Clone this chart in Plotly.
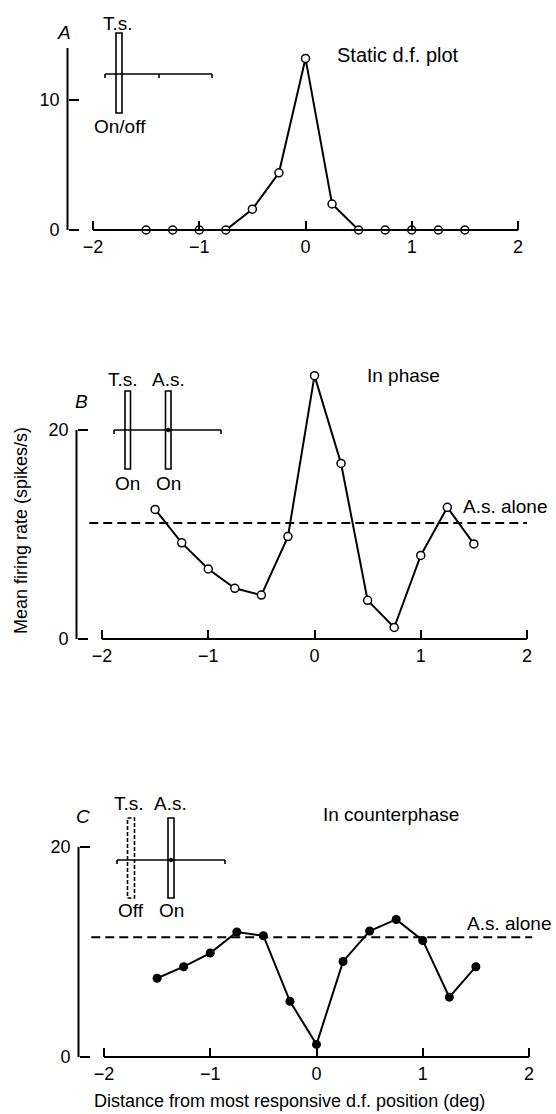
import plotly.graph_objects as go

W, H = 556, 1114

# ---------------- data ----------------
positions = [-1.5, -1.25, -1.0, -0.75, -0.5, -0.25, 0.0, 0.25, 0.5, 0.75, 1.0, 1.25, 1.5]
static_rate = [0.0, 0.0, 0.0, 0.0, 1.6, 4.4, 13.2, 2.0, 0.0, 0.0, 0.0, 0.0, 0.0]
in_phase_rate = [12.4, 9.2, 6.7, 4.85, 4.2, 9.8, 25.2, 16.8, 3.7, 1.1, 8.0, 12.6, 9.1]
counterphase_rate = [7.5, 8.6, 9.9, 11.9, 11.55, 5.3, 1.2, 9.1, 12.0, 13.1, 11.1, 5.7, 8.6]
as_alone_B = 11.1
as_alone_C = 11.4
dash_span_B = [-2.12, 2.0]
dash_span_C = [-2.12, 2.03]

x_ticks = [-2, -1, 0, 1, 2]
x_ticktext = ["\u22122", "\u22121", "0", "1", "2"]
yticks_A = [0, 10]
yticks_BC = [0, 20]

# ---------------- layout helpers ----------------
FONT = "Liberation Sans, Arial, sans-serif"
SX = 106.25          # pixels per x unit
XR = [-2.35, 2.15]   # x range
YAX = -2.24          # x position of y axis line

panels = [
    dict(x0=93, y0=230, sy=13.0, ymax=14.8, ytop=14, yt=yticks_A),
    dict(x0=102, y0=639, sy=10.45, ymax=26.5, ytop=20, yt=yticks_BC),
    dict(x0=104, y0=1057, sy=10.5, ymax=21.0, ytop=20, yt=yticks_BC),
]

def px(x):
    return x / W

def py(y):
    return 1 - y / H

fig = go.Figure()
layout = dict(
    width=W, height=H, margin=dict(l=0, r=0, t=0, b=0),
    paper_bgcolor="white", plot_bgcolor="white", showlegend=False,
    font=dict(family=FONT, size=18, color="black"),
)
shapes = []
annotations = []

for i, p in enumerate(panels):
    n = "" if i == 0 else str(i + 1)
    xl = p["x0"] + (XR[0] + 2) * SX
    xr = p["x0"] + (XR[1] + 2) * SX
    yb = p["y0"] + 1.0 * p["sy"]
    yt = p["y0"] - p["ymax"] * p["sy"]
    layout["xaxis" + n] = dict(
        domain=[px(xl), px(xr)], range=XR, anchor="free", position=py(p["y0"]),
        showline=False, showgrid=False, zeroline=False,
        tickvals=x_ticks, ticktext=x_ticktext, ticks="inside", ticklen=9,
        tickwidth=2, tickcolor="black", tickfont=dict(size=18, family=FONT),
        ticklabelstandoff=4,
    )
    layout["yaxis" + n] = dict(
        domain=[py(yb), py(yt)], range=[-1, p["ymax"]], anchor="free",
        position=px(p["x0"] + (YAX + 2) * SX),
        showline=False, showgrid=False, zeroline=False,
        tickvals=p["yt"], ticks="inside", ticklen=10, tickwidth=2,
        tickcolor="black", tickfont=dict(size=18, family=FONT),
        ticklabelstandoff=8,
    )
    xa, ya = "x" + n, "y" + n
    # axis lines
    shapes.append(dict(type="line", xref=xa, yref=ya, x0=-2, x1=2, y0=0, y1=0,
                       line=dict(color="black", width=2)))
    shapes.append(dict(type="line", xref=xa, yref=ya, x0=YAX, x1=YAX, y0=0, y1=p["ytop"],
                       line=dict(color="black", width=2)))

# ---------------- traces ----------------
fig.add_trace(go.Scatter(
    x=positions, y=static_rate, mode="lines+markers", xaxis="x", yaxis="y",
    line=dict(color="black", width=2), cliponaxis=False,
    marker=dict(symbol="circle", size=8, color="white", line=dict(color="black", width=1.5))))

fig.add_trace(go.Scatter(
    x=dash_span_B, y=[as_alone_B, as_alone_B], mode="lines", xaxis="x2", yaxis="y2",
    line=dict(color="black", width=2, dash="9px,5px")))
fig.add_trace(go.Scatter(
    x=positions, y=in_phase_rate, mode="lines+markers", xaxis="x2", yaxis="y2",
    line=dict(color="black", width=2), cliponaxis=False,
    marker=dict(symbol="circle", size=8, color="white", line=dict(color="black", width=1.5))))

fig.add_trace(go.Scatter(
    x=dash_span_C, y=[as_alone_C, as_alone_C], mode="lines", xaxis="x3", yaxis="y3",
    line=dict(color="black", width=2, dash="9px,5px")))
fig.add_trace(go.Scatter(
    x=positions, y=counterphase_rate, mode="lines+markers", xaxis="x3", yaxis="y3",
    line=dict(color="black", width=2), cliponaxis=False,
    marker=dict(symbol="circle", size=9, color="black")))

# ---------------- insets (stimulus diagrams) ----------------
def rect(x0, x1, y0, y1, dash="solid"):
    shapes.append(dict(type="rect", xref="paper", yref="paper",
                       x0=px(x0), x1=px(x1), y0=py(y1), y1=py(y0),
                       line=dict(color="black", width=1.6, dash=dash),
                       fillcolor="rgba(0,0,0,0)"))

def hline(x0, x1, y):
    shapes.append(dict(type="line", xref="paper", yref="paper",
                       x0=px(x0), x1=px(x1), y0=py(y), y1=py(y),
                       line=dict(color="black", width=1.6)))

def vtick(x, y0, y1):
    shapes.append(dict(type="line", xref="paper", yref="paper",
                       x0=px(x), x1=px(x), y0=py(y0), y1=py(y1),
                       line=dict(color="black", width=1.6)))

def dot(x, y, r=1.8):
    shapes.append(dict(type="circle", xref="paper", yref="paper",
                       x0=px(x - r), x1=px(x + r), y0=py(y + r), y1=py(y - r),
                       line=dict(color="black", width=1), fillcolor="black"))

def text(s, x, y, size=19, italic=False, anchor="center"):
    annotations.append(dict(
        text=("<i>%s</i>" % s) if italic else s, xref="paper", yref="paper",
        x=px(x), y=py(y), xanchor=anchor, yanchor="middle", showarrow=False,
        font=dict(family=FONT, size=size, color="black")))

# Panel A inset
hline(105, 212, 74)
vtick(105, 74, 78)
vtick(212, 74, 78)
vtick(159, 74, 78)
rect(116, 122, 33, 113)
text("T.s.", 118, 23)
text("On/off", 120, 126)
text("A", 64, 33, size=19, italic=True)

# Panel B inset
hline(114, 221, 430)
vtick(114, 430, 434)
vtick(221, 430, 434)
rect(125, 130.5, 391, 469)
rect(165.5, 171, 391, 469)
dot(168.2, 430)
text("T.s.", 123, 379)
text("A.s.", 168, 379)
text("On", 127, 483)
text("On", 168.5, 483)
text("B", 81, 401, size=19, italic=True)

# Panel C inset
hline(117, 225, 860)
vtick(117, 860, 864)
vtick(225, 860, 864)
rect(127.5, 134.5, 818, 898, dash="4px,2px")
rect(168, 174, 818, 898)
dot(171, 860)
text("T.s.", 129, 803)
text("A.s.", 170, 803)
text("Off", 130.5, 910)
text("On", 171, 910)
text("C", 83, 816, size=19, italic=True)

# Panel annotations
text("Static d.f. plot", 398, 55, size=20)
text("In phase", 403, 375, size=19)
text("A.s. alone", 505, 507, size=19)
text("In counterphase", 391, 814, size=19)
text("A.s. alone", 509, 923, size=19)

# Axis titles
annotations.append(dict(
    text="Mean firing rate (spikes/s)", xref="paper", yref="paper",
    x=px(21), y=py(531), xanchor="center", yanchor="middle", textangle=-90,
    showarrow=False, font=dict(family=FONT, size=18, color="black")))
annotations.append(dict(
    text="Distance from most responsive d.f. position (deg)", xref="paper", yref="paper",
    x=px(289), y=py(1101), xanchor="center", yanchor="middle",
    showarrow=False, font=dict(family=FONT, size=18, color="black")))

layout["shapes"] = shapes
layout["annotations"] = annotations
fig.update_layout(**layout)

fig.write_html("out.html")
